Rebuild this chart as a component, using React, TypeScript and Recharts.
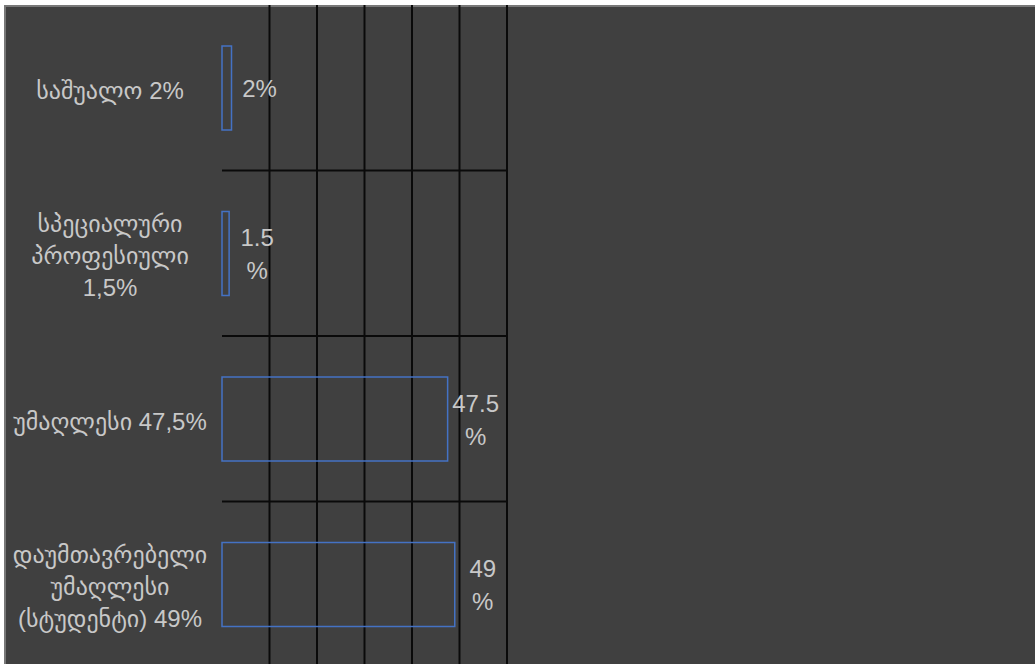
import React from "react";
import { BarChart, Bar, XAxis, YAxis, CartesianGrid, LabelList } from "recharts";

const categories = [
  "საშუალო 2%",
  "სპეციალური პროფესიული 1,5%",
  "უმაღლესი 47,5%",
  "დაუმთავრებელი უმაღლესი (სტუდენტი) 49%",
];
const values = [2, 1.5, 47.5, 49];
const xTicks = [10, 20, 30, 40, 50, 60];
const xMax = 60;

const data = categories.map((name, i) => ({ name, value: values[i] }));

const TEXT = "#c8c8c8";
const FONT = "'Liberation Sans', Arial, 'DejaVu Sans', sans-serif";

function wrap(text: string, max: number) {
  const lines: string[] = [];
  let cur = "";
  for (const w of text.split(" ")) {
    const next = cur ? cur + " " + w : w;
    if (next.length > max && cur) {
      lines.push(cur);
      cur = w;
    } else cur = next;
  }
  if (cur) lines.push(cur);
  return lines;
}

function CategoryTick(props: any) {
  const { y, payload } = props;
  const lines = wrap(String(payload.value), 14);
  const lh = 32;
  const start = y + 2 - ((lines.length - 1) * lh) / 2;
  return (
    <text x={106} y={start} textAnchor="middle" fill={TEXT} fontSize={24} fontFamily={FONT} dominantBaseline="central">
      {lines.map((l, i) => (
        <tspan key={i} x={106} y={start + i * lh}>
          {l}
        </tspan>
      ))}
    </text>
  );
}

function ValueLabel(props: any) {
  const { x, y, width, height, value } = props;
  const s = `${value}%`;
  const lines = s.length > 2 ? [String(value), "%"] : [s];
  const lh = 33;
  const cx = x + width + 28;
  const start = y + height / 2 - ((lines.length - 1) * lh) / 2;
  return (
    <text x={cx} y={start} textAnchor="middle" fill={TEXT} fontSize={24} fontFamily={FONT} dominantBaseline="central">
      {lines.map((l, i) => (
        <tspan key={i} x={cx} y={start + i * lh}>
          {l}
        </tspan>
      ))}
    </text>
  );
}

export default function App() {
  return (
    <div
      style={{
        position: "fixed",
        left: 4,
        top: 5,
        width: 1031,
        height: 659,
        overflow: "hidden",
        background: "#404040",
        boxShadow: "inset 2px 2px 0 #787878",
      }}
    >
      <BarChart
        width={1031}
        height={662}
        data={data}
        layout="vertical"
        margin={{ top: 0, right: 528, bottom: 0, left: 0 }}
        barCategoryGap="49%"
      >
        <CartesianGrid
          stroke="#0a0a0a"
          strokeWidth={2}
          verticalCoordinatesGenerator={({ offset }: any) =>
            xTicks.map((t) => offset.left + (t / xMax) * offset.width)
          }
          horizontalCoordinatesGenerator={({ offset }: any) =>
            [1, 2, 3].map((i) => offset.top + (i * offset.height) / categories.length)
          }
        />
        <XAxis type="number" domain={[0, xMax]} ticks={xTicks} hide />
        <YAxis
          type="category"
          dataKey="name"
          width={218}
          axisLine={false}
          tickLine={false}
          tick={<CategoryTick />}
          interval={0}
        />
        <Bar dataKey="value" fill="none" stroke="#4472c4" strokeWidth={1.5} barSize={84} isAnimationActive={false}>
          <LabelList dataKey="value" content={<ValueLabel />} />
        </Bar>
      </BarChart>
    </div>
  );
}
